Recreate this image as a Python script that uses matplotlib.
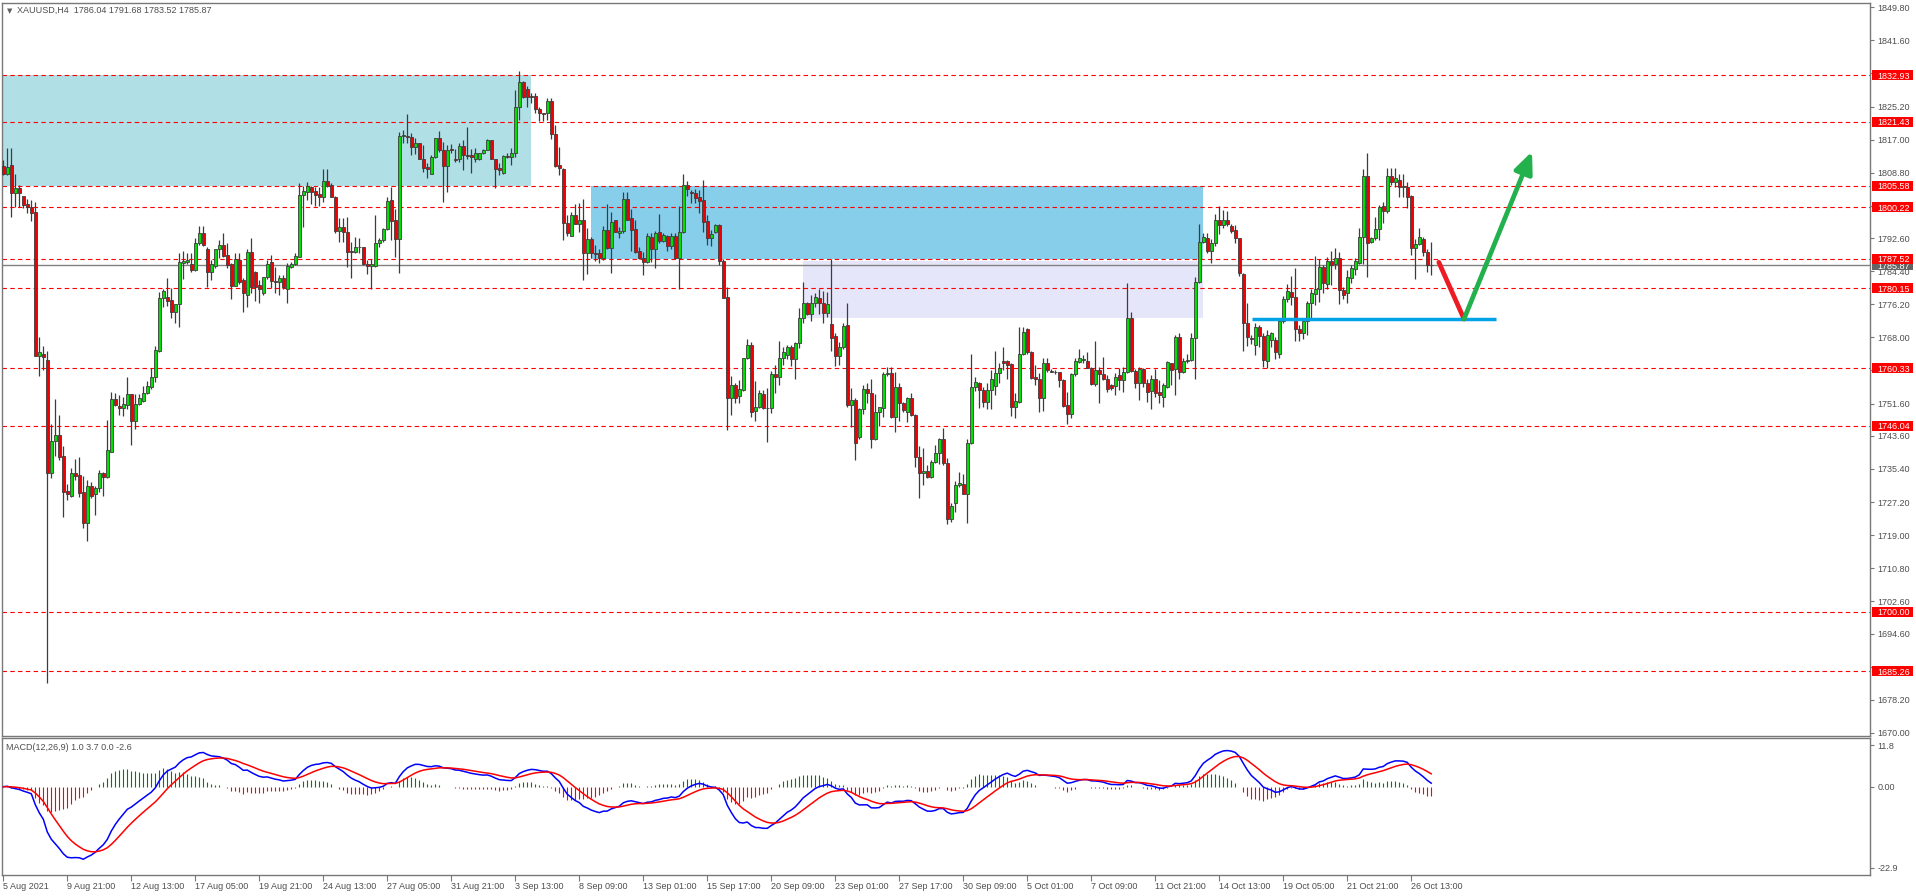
import numpy as np
import pandas as pd
import matplotlib
matplotlib.use("Agg")
import matplotlib.pyplot as plt
from matplotlib.patches import Rectangle
from matplotlib.transforms import blended_transform_factory

plt.rcParams["font.family"] = ["Liberation Sans", "DejaVu Sans"]

# XAUUSD H4 candles (bar 0 = 5 Aug 2021)
opens = [
    1810.5, 1808.5, 1810.6, 1803.7, 1804.9, 1803.0, 1801.0, 1800.4, 1799.0, 1763.5,
    1764.0, 1762.4, 1734.5, 1742.3, 1743.8, 1738.6, 1729.9, 1728.8, 1734.3, 1733.9,
    1729.6, 1721.9, 1731.2, 1729.1, 1730.8, 1734.3, 1733.3, 1739.7, 1752.7, 1751.0,
    1750.6, 1751.3, 1754.0, 1747.4, 1751.4, 1752.3, 1754.1, 1755.8, 1758.3, 1764.7,
    1777.7, 1777.9, 1777.2, 1774.4, 1776.2, 1786.5, 1786.7, 1786.2, 1784.7, 1791.5,
    1793.8, 1789.8, 1784.3, 1785.7, 1789.8, 1790.9, 1788.4, 1786.1, 1780.8, 1787.2,
    1782.2, 1778.6, 1789.1, 1784.3, 1781.0, 1778.9, 1782.9, 1786.7, 1782.0, 1781.6,
    1782.6, 1779.9, 1785.5, 1786.1, 1788.0, 1803.3, 1804.1, 1805.3, 1804.3, 1803.5,
    1802.8, 1806.7, 1805.7, 1802.8, 1794.4, 1795.3, 1794.2, 1789.4, 1789.2, 1790.3,
    1790.3, 1786.3, 1785.7, 1785.7, 1791.5, 1792.1, 1794.8, 1802.0, 1797.1, 1792.3,
    1818.0, 1817.9, 1817.6, 1815.1, 1816.1, 1812.3, 1810.1, 1808.6, 1812.6, 1817.3,
    1814.4, 1810.5, 1814.6, 1812.2, 1812.1, 1815.4, 1813.2, 1813.2, 1812.1, 1812.1,
    1813.6, 1814.4, 1816.9, 1812.3, 1809.9, 1808.8, 1812.9, 1812.6, 1813.6, 1825.0,
    1831.2, 1829.5, 1827.8, 1827.8, 1824.7, 1823.5, 1823.7, 1826.6, 1818.4, 1810.7,
    1809.7, 1796.4, 1793.2, 1798.3, 1796.2, 1797.1, 1788.8, 1792.3, 1788.8, 1788.8,
    1787.6, 1794.7, 1790.2, 1797.1, 1793.8, 1794.4, 1802.2, 1797.5, 1794.8, 1789.4,
    1787.6, 1786.6, 1792.8, 1790.0, 1794.0, 1791.9, 1793.1, 1790.7, 1793.1, 1787.7,
    1794.0, 1805.7, 1803.9, 1803.7, 1802.8, 1802.0, 1796.8, 1792.5, 1794.0, 1795.8,
    1786.9, 1777.9, 1752.9, 1756.2, 1753.5, 1754.9, 1762.8, 1766.1, 1749.8, 1750.8,
    1754.0, 1750.6, 1750.6, 1758.9, 1758.2, 1762.8, 1763.6, 1765.5, 1762.6, 1766.5,
    1772.7, 1776.4, 1773.9, 1776.6, 1777.7, 1776.4, 1774.1, 1771.2, 1768.3, 1763.4,
    1765.5, 1771.0, 1751.2, 1752.6, 1743.2, 1750.2, 1755.1, 1754.1, 1742.7, 1749.6,
    1750.4, 1758.8, 1759.2, 1748.3, 1755.8, 1751.7, 1749.6, 1753.1, 1748.8, 1738.3,
    1734.3, 1735.0, 1733.5, 1737.2, 1739.3, 1742.7, 1736.8, 1722.9, 1727.0, 1731.3,
    1731.6, 1729.3, 1741.9, 1755.8, 1756.6, 1755.0, 1752.1, 1755.0, 1756.0, 1759.1,
    1762.2, 1762.2, 1761.3, 1750.8, 1752.1, 1764.0, 1770.0, 1764.3, 1758.1, 1757.8,
    1753.1, 1761.6, 1759.6, 1759.5, 1759.3, 1757.4, 1751.2, 1749.0, 1758.8, 1762.0,
    1762.4, 1762.1, 1760.5, 1756.4, 1759.9, 1758.8, 1757.8, 1756.2, 1756.0, 1758.7,
    1757.4, 1759.3, 1772.7, 1759.7, 1756.8, 1760.1, 1756.8, 1754.8, 1757.6, 1754.5,
    1753.3, 1755.8, 1761.6, 1760.1, 1768.2, 1759.5, 1762.1, 1762.5, 1767.8, 1781.6,
    1791.7, 1792.5, 1789.5, 1791.3, 1797.1, 1795.8, 1797.2, 1795.6, 1794.6, 1792.5,
    1783.7, 1771.6, 1767.8, 1766.1, 1770.6, 1768.3, 1762.2, 1767.3, 1767.3, 1764.0,
    1772.0, 1777.4, 1779.3, 1778.1, 1770.0, 1769.2, 1772.1, 1776.4, 1778.8, 1779.9,
    1785.5, 1781.2, 1787.0, 1786.2, 1787.6, 1779.7, 1778.9, 1782.6, 1784.9, 1786.5,
    1792.9, 1808.0, 1791.7, 1792.5, 1794.8, 1800.5, 1799.4, 1808.0, 1806.6, 1807.0,
    1805.3, 1805.2, 1803.0, 1790.1, 1791.1, 1792.3, 1789.2, 1786.04,
]
highs = [
    1812.0, 1814.8, 1814.8, 1808.5, 1805.7, 1803.0, 1802.2, 1802.0, 1801.6, 1768.0,
    1765.9, 1764.6, 1746.5, 1752.7, 1748.8, 1741.1, 1731.7, 1735.7, 1737.9, 1738.4,
    1733.7, 1732.6, 1732.1, 1731.2, 1735.1, 1734.7, 1747.5, 1754.4, 1754.2, 1753.7,
    1753.3, 1758.3, 1754.0, 1754.0, 1754.0, 1755.9, 1757.2, 1760.5, 1765.9, 1779.3,
    1780.1, 1782.6, 1780.3, 1776.2, 1789.0, 1789.4, 1789.0, 1789.0, 1792.5, 1795.6,
    1795.6, 1790.5, 1787.2, 1790.0, 1792.1, 1793.9, 1791.5, 1786.5, 1788.8, 1788.8,
    1782.6, 1789.8, 1792.5, 1784.4, 1782.2, 1783.0, 1787.2, 1788.4, 1785.5, 1783.4,
    1783.4, 1786.5, 1786.7, 1788.8, 1806.3, 1805.5, 1806.6, 1805.5, 1805.3, 1805.3,
    1809.6, 1809.6, 1806.2, 1803.0, 1797.5, 1797.5, 1797.7, 1791.7, 1792.9, 1792.5,
    1790.5, 1787.2, 1787.3, 1798.3, 1792.5, 1795.0, 1802.8, 1805.3, 1799.9, 1818.9,
    1819.4, 1823.3, 1818.7, 1817.3, 1816.2, 1815.7, 1811.1, 1813.2, 1817.5, 1819.2,
    1816.5, 1815.7, 1815.9, 1814.6, 1816.2, 1816.9, 1820.0, 1814.6, 1814.8, 1813.7,
    1814.6, 1817.2, 1816.9, 1812.3, 1811.3, 1813.2, 1813.6, 1814.8, 1829.4, 1834.0,
    1831.4, 1830.3, 1828.5, 1828.5, 1825.2, 1823.7, 1827.2, 1827.2, 1820.6, 1815.1,
    1809.9, 1798.3, 1799.1, 1801.0, 1801.2, 1802.2, 1795.0, 1792.9, 1790.9, 1790.0,
    1795.6, 1801.0, 1799.1, 1797.2, 1795.4, 1804.1, 1804.1, 1799.7, 1797.1, 1790.3,
    1789.2, 1793.8, 1793.9, 1794.3, 1798.6, 1793.8, 1793.4, 1793.8, 1793.8, 1800.5,
    1808.6, 1806.8, 1804.5, 1804.7, 1804.5, 1807.0, 1798.3, 1794.6, 1796.2, 1796.0,
    1787.3, 1780.5, 1758.4, 1756.8, 1757.4, 1762.9, 1767.5, 1766.9, 1757.2, 1754.9,
    1754.9, 1755.4, 1759.7, 1761.1, 1767.1, 1765.7, 1766.1, 1766.1, 1766.9, 1775.2,
    1781.8, 1776.8, 1778.5, 1778.9, 1780.1, 1779.5, 1779.3, 1787.4, 1769.1, 1766.9,
    1771.5, 1776.4, 1755.4, 1752.9, 1750.6, 1756.2, 1756.8, 1757.6, 1753.9, 1750.8,
    1759.5, 1760.7, 1760.7, 1759.5, 1756.8, 1752.1, 1753.3, 1754.3, 1749.0, 1741.1,
    1740.5, 1736.4, 1737.6, 1741.3, 1743.1, 1745.5, 1738.0, 1726.9, 1732.5, 1734.7,
    1734.1, 1742.7, 1764.0, 1758.3, 1757.0, 1755.8, 1756.8, 1759.9, 1764.5, 1761.6,
    1765.7, 1762.5, 1761.6, 1754.1, 1770.6, 1770.6, 1770.2, 1764.5, 1761.2, 1759.1,
    1762.8, 1762.8, 1760.1, 1760.0, 1759.5, 1757.8, 1754.5, 1759.1, 1762.8, 1765.0,
    1763.6, 1764.4, 1760.7, 1767.1, 1760.7, 1763.2, 1758.7, 1756.4, 1759.1, 1760.3,
    1760.6, 1781.4, 1774.4, 1760.2, 1760.7, 1760.3, 1757.8, 1758.7, 1760.1, 1757.4,
    1756.6, 1762.1, 1761.7, 1768.6, 1769.2, 1762.8, 1764.0, 1769.2, 1783.0, 1796.2,
    1793.8, 1793.8, 1792.3, 1798.6, 1800.5, 1799.6, 1799.4, 1796.2, 1795.8, 1792.7,
    1784.0, 1776.4, 1768.6, 1771.6, 1771.0, 1769.0, 1769.8, 1769.4, 1768.0, 1772.4,
    1778.3, 1781.3, 1783.2, 1785.2, 1771.0, 1772.8, 1777.0, 1780.1, 1788.2, 1787.4,
    1786.0, 1788.0, 1789.5, 1790.1, 1789.2, 1780.5, 1784.6, 1786.0, 1787.6, 1795.0,
    1809.6, 1813.8, 1792.9, 1797.9, 1800.8, 1801.6, 1809.9, 1809.9, 1809.9, 1808.6,
    1808.6, 1806.6, 1803.3, 1792.3, 1795.0, 1792.8, 1789.8, 1791.68,
]
lows = [
    1808.2, 1808.2, 1797.7, 1800.4, 1800.4, 1800.0, 1798.7, 1796.9, 1763.3, 1758.5,
    1759.9, 1682.4, 1733.2, 1738.6, 1737.6, 1723.6, 1727.7, 1728.5, 1732.6, 1728.5,
    1720.8, 1717.6, 1728.1, 1724.0, 1729.8, 1728.8, 1733.1, 1739.5, 1751.0, 1748.8,
    1748.5, 1750.3, 1741.3, 1745.3, 1751.2, 1752.1, 1753.9, 1755.3, 1756.9, 1764.4,
    1775.6, 1775.8, 1772.9, 1771.6, 1770.6, 1782.4, 1786.2, 1784.3, 1784.5, 1790.9,
    1790.6, 1780.6, 1782.2, 1785.3, 1787.6, 1787.8, 1785.1, 1777.4, 1780.7, 1781.2,
    1774.4, 1775.6, 1778.9, 1777.1, 1776.4, 1778.6, 1782.5, 1780.3, 1779.1, 1778.5,
    1779.9, 1776.4, 1785.1, 1785.9, 1787.8, 1795.4, 1802.0, 1801.0, 1800.5, 1800.5,
    1801.6, 1805.3, 1802.7, 1793.8, 1791.7, 1791.7, 1785.5, 1782.6, 1789.0, 1789.0,
    1785.9, 1783.8, 1780.1, 1785.5, 1790.5, 1791.7, 1794.6, 1792.1, 1787.8, 1783.9,
    1816.1, 1816.1, 1813.2, 1813.4, 1812.1, 1809.0, 1807.6, 1808.5, 1812.4, 1814.0,
    1801.6, 1804.1, 1813.6, 1811.5, 1811.5, 1809.5, 1812.1, 1808.8, 1811.5, 1811.9,
    1813.4, 1814.3, 1812.1, 1804.9, 1808.2, 1808.6, 1812.4, 1810.7, 1812.8, 1821.9,
    1827.2, 1825.2, 1826.0, 1823.5, 1821.6, 1821.6, 1821.9, 1817.1, 1810.1, 1808.2,
    1792.1, 1793.1, 1793.1, 1796.0, 1794.2, 1782.2, 1783.8, 1787.6, 1787.0, 1786.5,
    1787.2, 1790.0, 1783.9, 1794.0, 1792.5, 1793.8, 1797.1, 1789.5, 1788.8, 1787.3,
    1783.4, 1786.4, 1786.7, 1785.1, 1791.3, 1791.7, 1789.5, 1790.0, 1787.3, 1780.1,
    1793.8, 1803.0, 1801.4, 1801.2, 1798.9, 1794.2, 1790.9, 1790.7, 1793.8, 1785.9,
    1777.7, 1745.0, 1748.8, 1751.7, 1751.7, 1754.8, 1762.6, 1748.3, 1747.4, 1750.4,
    1750.2, 1742.1, 1749.2, 1754.1, 1756.2, 1761.1, 1762.6, 1760.9, 1757.8, 1765.3,
    1771.6, 1773.5, 1772.1, 1775.6, 1773.9, 1771.5, 1773.1, 1764.5, 1760.9, 1761.1,
    1765.0, 1750.8, 1745.9, 1737.6, 1742.7, 1749.0, 1751.7, 1740.5, 1742.6, 1746.0,
    1748.3, 1758.4, 1748.1, 1744.6, 1747.4, 1749.6, 1747.1, 1748.5, 1735.8, 1728.1,
    1731.4, 1733.1, 1733.1, 1736.8, 1736.6, 1736.4, 1721.7, 1722.3, 1724.8, 1731.0,
    1729.2, 1722.1, 1741.7, 1754.8, 1750.4, 1750.8, 1750.2, 1750.2, 1753.7, 1756.8,
    1759.9, 1757.8, 1748.5, 1748.0, 1751.7, 1763.6, 1764.0, 1757.6, 1756.2, 1749.5,
    1749.8, 1759.3, 1759.3, 1758.8, 1755.8, 1750.8, 1746.5, 1748.0, 1758.4, 1761.6,
    1761.7, 1760.3, 1756.2, 1755.9, 1751.8, 1757.4, 1754.5, 1754.9, 1753.7, 1754.9,
    1754.5, 1759.1, 1759.3, 1755.4, 1752.5, 1755.8, 1752.1, 1750.2, 1753.3, 1751.7,
    1750.8, 1755.4, 1756.2, 1753.7, 1757.8, 1759.1, 1761.7, 1762.2, 1757.8, 1781.4,
    1791.3, 1789.0, 1786.5, 1790.6, 1793.6, 1795.0, 1795.6, 1793.8, 1791.3, 1783.2,
    1764.7, 1765.9, 1766.3, 1763.6, 1765.7, 1760.7, 1760.3, 1765.5, 1762.6, 1763.0,
    1771.5, 1776.8, 1776.0, 1767.0, 1767.0, 1767.5, 1768.5, 1772.8, 1776.0, 1776.8,
    1779.0, 1780.0, 1781.0, 1784.9, 1776.3, 1777.5, 1776.5, 1781.5, 1783.5, 1786.2,
    1786.3, 1782.9, 1791.5, 1792.1, 1792.1, 1796.3, 1798.7, 1805.7, 1805.3, 1802.7,
    1802.7, 1800.0, 1788.4, 1782.4, 1790.9, 1788.2, 1784.3, 1783.52,
]
closes = [
    1808.6, 1810.3, 1803.7, 1804.9, 1803.8, 1800.8, 1800.4, 1798.7, 1763.5, 1764.3,
    1763.2, 1734.5, 1742.3, 1743.8, 1738.4, 1729.8, 1729.2, 1734.3, 1733.7, 1729.5,
    1721.9, 1731.2, 1728.8, 1730.8, 1734.3, 1733.3, 1740.1, 1752.7, 1751.2, 1750.6,
    1751.5, 1754.0, 1747.4, 1751.5, 1752.9, 1754.3, 1755.9, 1758.3, 1764.9, 1777.7,
    1779.6, 1777.1, 1774.4, 1776.2, 1786.7, 1786.9, 1787.1, 1784.7, 1791.5, 1793.8,
    1790.9, 1784.3, 1786.1, 1789.8, 1790.9, 1788.2, 1785.9, 1780.8, 1787.3, 1781.8,
    1778.9, 1789.1, 1780.6, 1780.6, 1780.1, 1782.9, 1786.3, 1782.0, 1781.6, 1782.6,
    1780.6, 1785.7, 1786.1, 1788.2, 1803.3, 1804.3, 1805.5, 1804.1, 1803.3, 1802.8,
    1806.7, 1805.5, 1802.8, 1794.4, 1795.3, 1794.2, 1789.2, 1789.1, 1790.3, 1790.4,
    1786.3, 1785.7, 1786.2, 1791.5, 1792.1, 1794.8, 1801.8, 1796.9, 1792.3, 1818.0,
    1818.1, 1817.7, 1815.1, 1816.1, 1812.3, 1809.9, 1809.7, 1812.8, 1817.3, 1814.4,
    1810.5, 1814.4, 1814.3, 1811.9, 1815.4, 1813.2, 1813.0, 1812.6, 1813.8, 1813.6,
    1814.4, 1816.9, 1812.3, 1809.6, 1809.5, 1812.9, 1812.8, 1813.6, 1825.0, 1831.2,
    1827.5, 1827.5, 1827.5, 1824.7, 1823.5, 1823.4, 1826.6, 1818.5, 1810.5, 1809.9,
    1796.4, 1793.8, 1798.3, 1796.2, 1797.1, 1788.8, 1792.3, 1788.8, 1788.7, 1787.6,
    1794.6, 1790.2, 1796.7, 1794.2, 1794.4, 1802.4, 1797.2, 1794.6, 1789.2, 1787.6,
    1786.6, 1793.1, 1790.0, 1793.8, 1791.9, 1793.4, 1790.7, 1793.1, 1787.6, 1794.0,
    1805.7, 1804.7, 1803.8, 1802.6, 1801.9, 1796.7, 1792.5, 1793.7, 1795.8, 1786.8,
    1777.8, 1752.9, 1756.2, 1752.9, 1755.1, 1762.8, 1766.1, 1749.6, 1750.7, 1754.1,
    1750.4, 1750.5, 1758.9, 1758.2, 1762.8, 1764.4, 1765.5, 1762.6, 1766.5, 1772.7,
    1776.4, 1773.9, 1776.4, 1777.9, 1776.4, 1774.1, 1776.3, 1767.9, 1763.4, 1765.5,
    1770.8, 1751.2, 1752.6, 1741.9, 1750.2, 1755.1, 1754.1, 1742.7, 1749.6, 1750.7,
    1758.8, 1759.2, 1748.3, 1755.8, 1751.7, 1750.0, 1752.9, 1748.8, 1738.3, 1734.5,
    1735.0, 1733.3, 1737.2, 1739.4, 1742.7, 1736.8, 1722.9, 1726.2, 1731.4, 1731.8,
    1729.3, 1741.9, 1755.8, 1757.0, 1754.9, 1752.1, 1755.0, 1757.6, 1759.1, 1760.5,
    1761.7, 1761.2, 1750.8, 1752.2, 1764.0, 1769.3, 1764.3, 1758.0, 1757.8, 1753.1,
    1761.6, 1759.9, 1759.5, 1759.4, 1757.4, 1751.1, 1749.0, 1758.8, 1762.1, 1762.8,
    1762.5, 1760.5, 1756.4, 1759.9, 1758.8, 1757.8, 1755.1, 1755.4, 1758.3, 1757.4,
    1759.3, 1772.7, 1759.7, 1756.6, 1760.1, 1756.8, 1754.5, 1757.6, 1754.3, 1753.7,
    1756.2, 1761.8, 1759.9, 1768.2, 1759.3, 1762.1, 1762.5, 1767.8, 1781.6, 1791.7,
    1792.8, 1789.5, 1791.3, 1797.1, 1795.8, 1797.2, 1796.0, 1794.4, 1792.5, 1783.9,
    1771.5, 1768.0, 1767.6, 1770.6, 1768.3, 1762.4, 1768.7, 1769.0, 1764.4, 1772.1,
    1777.4, 1779.5, 1778.1, 1770.0, 1769.2, 1772.1, 1776.4, 1778.9, 1780.1, 1785.5,
    1781.5, 1787.0, 1785.9, 1787.6, 1779.7, 1778.5, 1783.0, 1785.1, 1786.8, 1792.9,
    1808.0, 1791.5, 1792.5, 1794.8, 1800.4, 1799.4, 1808.0, 1806.6, 1807.6, 1805.2,
    1805.4, 1802.9, 1790.1, 1791.1, 1792.8, 1789.2, 1785.9, 1785.87,
]

date_labels = [
    "5 Aug 2021", "9 Aug 21:00", "12 Aug 13:00", "17 Aug 05:00", "19 Aug 21:00",
    "24 Aug 13:00", "27 Aug 05:00", "31 Aug 21:00", "3 Sep 13:00", "8 Sep 09:00",
    "13 Sep 01:00", "15 Sep 17:00", "20 Sep 09:00", "23 Sep 01:00", "27 Sep 17:00",
    "30 Sep 09:00", "5 Oct 01:00", "7 Oct 09:00", "11 Oct 21:00", "14 Oct 13:00",
    "19 Oct 05:00", "21 Oct 21:00", "26 Oct 13:00",
]
price_ticks = [1849.80, 1841.60, 1833.40, 1825.20, 1817.00, 1808.80, 1800.60, 1792.60,
               1784.40, 1776.20, 1768.00, 1759.80, 1751.60, 1743.60, 1735.40, 1727.20,
               1719.00, 1710.80, 1702.60, 1694.60, 1686.40, 1678.20, 1670.00]
# scale values that sit under a level label and are not readable there
hidden_ticks = [1833.40, 1800.60, 1759.80, 1686.40]

# horizontal levels drawn on the chart
levels = [1832.93, 1821.43, 1805.58, 1800.22, 1787.52, 1780.15, 1760.33, 1746.04, 1700.00, 1685.26]
last_price = 1785.87

# zones: (first bar, last bar, low, high)
zone_teal = (-5, 131.9, 1805.58, 1832.93)
zone_blue = (146.9, 299.85, 1787.3, 1805.58)
zone_lav = (200.0, 299.85, 1772.9, 1787.0)

# hand drawn projection (bar, price)
support_line = ([312.2, 373.2], [1772.55, 1772.55])
drop_leg = ([358.9, 365.2], [1786.6, 1772.55])
rise_leg = ((365.2, 1772.55), (382.2, 1814.05))

GREEN = "#00e000"
RED = "#f00000"
WICK = "#3c3c3c"
AXC = "#787878"
TXT = "#4e4e4e"

W, H = 1916, 896
fig = plt.figure(figsize=(W / 100, H / 100), dpi=100)
ax = fig.add_axes([2 / W, 1 - 736 / H, 1868 / W, 733.3 / H])
axm = fig.add_axes([2 / W, 1 - 875 / H, 1868 / W, 137 / H])

x = np.arange(len(closes))
o = np.array(opens)
c = np.array(closes)
up = c >= o

# zones
for (x0, x1, lo, hi), col in [(zone_teal, "#b0e0e6"), (zone_blue, "#87ceeb"), (zone_lav, "#e6e6fa")]:
    ax.add_patch(Rectangle((x0, lo), x1 - x0, hi - lo, facecolor=col, edgecolor="none", zorder=1))

for v in levels:
    ax.axhline(v, color="#ff0000", lw=0.8, ls=(0, (4, 3)), zorder=2)
ax.axhline(last_price, color="#808080", lw=1.0, zorder=2)

# candles
ax.vlines(x, lows, highs, color=WICK, lw=0.9, zorder=3)
ax.bar(x, np.maximum(np.abs(c - o), 0.12), bottom=np.minimum(o, c), width=0.72,
       color=np.where(up, GREEN, RED), edgecolor=WICK, linewidth=0.6, zorder=4)

# projection
ax.plot(*support_line, color="#00a2e8", lw=2.5, solid_capstyle="butt", zorder=5)
ax.plot(*drop_leg, color="#ed1c24", lw=3.4, solid_capstyle="round", zorder=6)
ax.annotate("", xy=rise_leg[1], xytext=rise_leg[0], zorder=6,
            arrowprops=dict(arrowstyle="-|>,head_length=0.8,head_width=0.35", color="#22b14c",
                            lw=3.4, mutation_scale=16, shrinkA=0, shrinkB=0))

ax.set_xlim(-0.325, 466.7)
ax.set_ylim(1669.23, 1850.92)
ax.yaxis.tick_right()
ax.set_yticks(price_ticks)
ax.set_yticklabels(["" if v in hidden_ticks else f"{v:.2f}" for v in price_ticks])
ax.tick_params(axis="y", direction="out", length=3, width=0.8, colors=AXC,
               labelcolor=TXT, labelsize=6.5, pad=2.5)
ax.tick_params(axis="x", bottom=False, labelbottom=False)

# price labels on the scale
trans = blended_transform_factory(ax.transAxes, ax.transData)
bx0, bw, bh, tx = 1870 / 1868, 41 / 1868, 10 / 4.036, 1875.5 / 1868
ax.add_patch(Rectangle((bx0, last_price - bh / 2), bw, bh, transform=trans,
                       facecolor="#646464", edgecolor="none", clip_on=False, zorder=10))
ax.text(tx, last_price, f"{last_price:.2f}", transform=trans, color="white", fontsize=6.5,
        va="center_baseline", ha="left", clip_on=False, zorder=11)
for v in levels:
    ax.add_patch(Rectangle((bx0, v - bh / 2), bw, bh, transform=trans,
                           facecolor="#ff0000", edgecolor="none", clip_on=False, zorder=12))
    ax.text(tx, v, f"{v:.2f}", transform=trans, color="white", fontsize=6.5,
            va="center_baseline", ha="left", clip_on=False, zorder=13)

fig.text(17 / W, 1 - 10.7 / H, "XAUUSD,H4  1786.04 1791.68 1783.52 1785.87",
         fontsize=6.5, color=TXT, va="center", ha="left")
fig.text(7 / W, 1 - 11 / H, "\u25bc", fontsize=5, color="#606060", va="center", ha="left",
         family=["DejaVu Sans"])

# MACD(12,26,9) from the closes
cs = pd.Series(closes)
macd = cs.ewm(span=12, adjust=False).mean() - cs.ewm(span=26, adjust=False).mean()
signal = macd.ewm(span=9, adjust=False).mean()
hist = macd - signal

axm.vlines(x, 0, hist, colors=np.where(hist >= 0, "#008000", "#ff0000"), lw=0.8, zorder=2)
axm.plot(x, macd, color="#0000ff", lw=1.1, zorder=3)
axm.plot(x, signal, color="#ff0000", lw=1.1, zorder=3)
axm.text(4 / 1868, 1 - 9 / 137, "MACD(12,26,9) 1.0 3.7 0.0 -2.6", transform=axm.transAxes,
         fontsize=6.5, color=TXT, va="center", ha="left")

axm.set_xlim(-0.325, 466.7)
axm.set_ylim(-24.96, 13.78)
axm.yaxis.tick_right()
axm.set_yticks([11.8, 0.0, -22.9])
axm.set_yticklabels(["11.8", "0.00", "-22.9"])
axm.tick_params(axis="y", direction="out", length=3, width=0.8, colors=AXC,
                labelcolor=TXT, labelsize=6.5, pad=2.5)
axm.set_xticks(np.arange(0, 16 * len(date_labels), 16))
axm.set_xticklabels(date_labels, ha="left")
axm.tick_params(axis="x", direction="out", length=4, width=0.8, colors=AXC,
                labelcolor=TXT, labelsize=6.5, pad=1)

for a in (ax, axm):
    for s in a.spines.values():
        s.set_color(AXC)
        s.set_linewidth(1.0)

fig.savefig("out.png", dpi=100)
